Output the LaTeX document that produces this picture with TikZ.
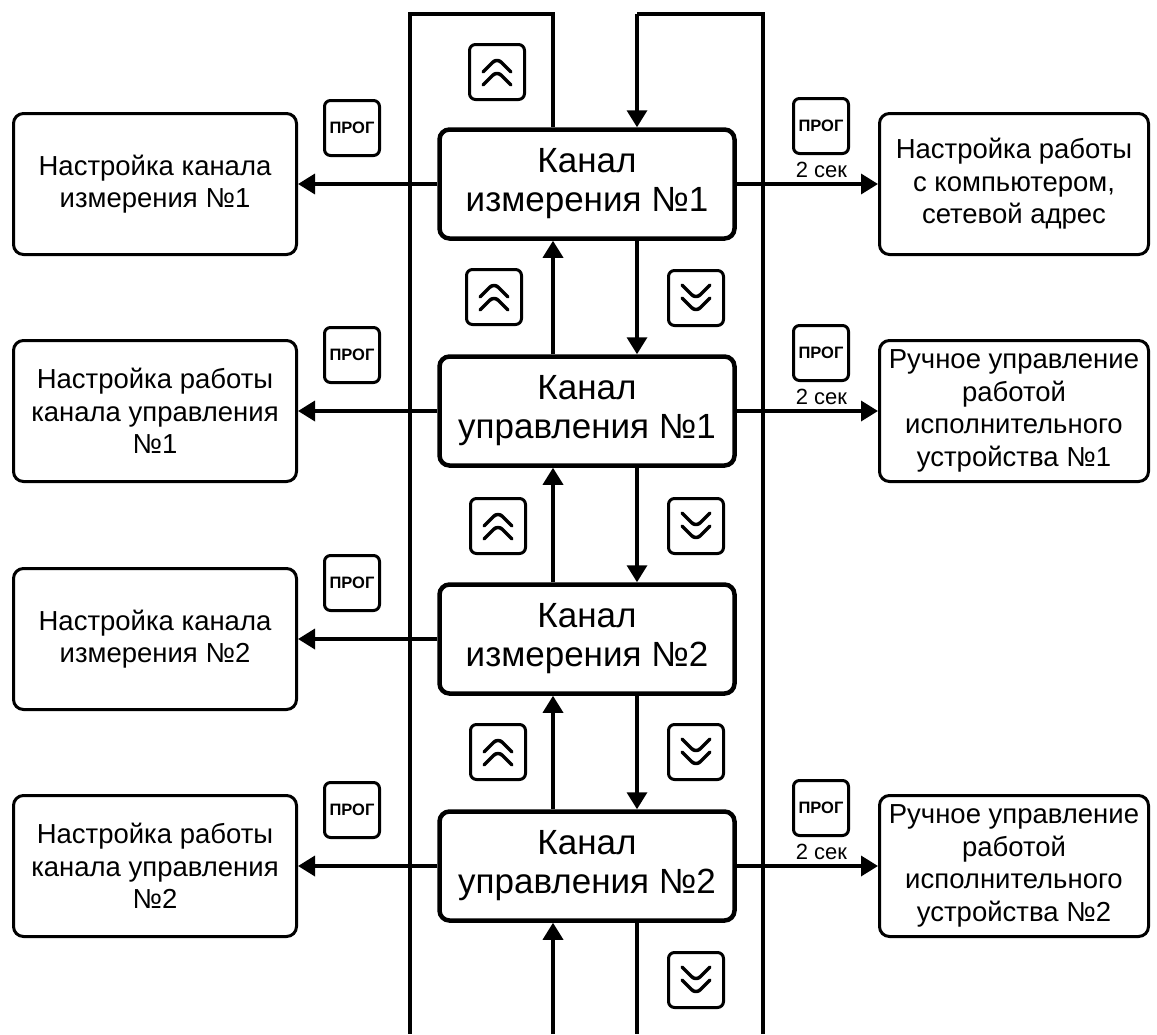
\documentclass[tikz,border=0pt]{standalone}
\usepackage{fontspec}
\setmainfont{Liberation Sans}
\usetikzlibrary{arrows.meta}

\tikzset{
  line/.style={line width=3.5pt},
  arr/.style={line width=3.5pt, -{Triangle[length=17pt,width=20pt]}},
  kanal/.style={draw, line width=4.5pt, rounded corners=10pt, minimum width=295pt, minimum height=109pt, inner sep=0pt, align=center, font=\fontsize{35}{39}\selectfont},
  menu/.style={draw, line width=3pt, rounded corners=10pt, minimum width=283pt, minimum height=141pt, inner sep=0pt, align=center, font=\fontsize{27.5}{32.5}\selectfont},
  menur/.style={menu, minimum width=269pt},
  key/.style={draw, line width=3pt, rounded corners=6pt, minimum size=55pt, inner sep=0pt},
  prog/.style={key, font=\fontsize{16.5}{16.5}\selectfont\bfseries},
  chev/.style={line width=3.5pt, line cap=round, line join=round},
  upkey/.style={key, path picture={
    \draw[chev] ([shift={(-14pt,0pt)}]path picture bounding box.center) -- ++(14pt,14pt) -- ++(14pt,-14pt);
    \draw[chev] ([shift={(-14pt,-13pt)}]path picture bounding box.center) -- ++(14pt,14pt) -- ++(14pt,-14pt);}},
  dnkey/.style={key, path picture={
    \draw[chev] ([shift={(-14pt,0pt)}]path picture bounding box.center) -- ++(14pt,-14pt) -- ++(14pt,14pt);
    \draw[chev] ([shift={(-14pt,13pt)}]path picture bounding box.center) -- ++(14pt,-14pt) -- ++(14pt,14pt);}},
  sek/.style={font=\fontsize{22}{22}\selectfont, above, inner sep=5pt}
}

\begin{document}
\begin{tikzpicture}[x=1pt,y=-1pt]
\useasboundingbox (0,0) rectangle (1157,1034);

\node[kanal] (kan1) at (587,184) {Канал\\измерения №1};
\node[kanal] (kan2) at (587,411) {Канал\\управления №1};
\node[kanal] (kan3) at (587,639) {Канал\\измерения №2};
\node[kanal] (kan4) at (587,866) {Канал\\управления №2};

\node[menu] (nastr1) at (155,184) {Настройка канала\\измерения №1};
\node[menu] (nastr2) at (155,411) {Настройка работы\\канала управления\\№1};
\node[menu] (nastr3) at (155,639) {Настройка канала\\измерения №2};
\node[menu] (nastr4) at (155,866) {Настройка работы\\канала управления\\№2};

\node[menur] (comp) at (1014,184) {Настройка работы\\с компьютером,\\сетевой адрес};
\node[menur] (ruch1) at (1014,411) {Ручное управление\\работой\\исполнительного\\устройства №1};
\node[menur] (ruch2) at (1014,866) {Ручное управление\\работой\\исполнительного\\устройства №2};

\node[prog] (progl1) at (352,128) {ПРОГ};
\node[prog] (progl2) at (352,355) {ПРОГ};
\node[prog] (progl3) at (352,583) {ПРОГ};
\node[prog] (progl4) at (352,810) {ПРОГ};
\node[prog] (progr1) at (821,126) {ПРОГ};
\node[prog] (progr2) at (821,353) {ПРОГ};
\node[prog] (progr4) at (821,808) {ПРОГ};

\node[upkey] (up0) at (497,72) {};
\node[upkey] (up1) at (494,297) {};
\node[upkey] (up2) at (498,526) {};
\node[upkey] (up3) at (498,752) {};
\node[dnkey] (dn1) at (696,298) {};
\node[dnkey] (dn2) at (696,526) {};
\node[dnkey] (dn3) at (696,752) {};
\node[dnkey] (dn4) at (696,980) {};

\coordinate (upx) at (553,0);
\coordinate (dnx) at (637,0);
\coordinate (tl) at (410,14);
\coordinate (bl) at (410,1034);
\coordinate (tr) at (763,14);
\coordinate (br) at (763,1034);

\draw[line] (upx |- kan1.north) -- (upx |- tl) -- (tl) -- (bl);
\draw[line] (br) -- (tr) -- (dnx |- tr);
\draw[arr] (dnx |- tr) -- (dnx |- kan1.north);
\draw[arr] (upx |- kan2.north) -- (upx |- kan1.south);
\draw[arr] (dnx |- kan1.south) -- (dnx |- kan2.north);
\draw[arr] (upx |- kan3.north) -- (upx |- kan2.south);
\draw[arr] (dnx |- kan2.south) -- (dnx |- kan3.north);
\draw[arr] (upx |- kan4.north) -- (upx |- kan3.south);
\draw[arr] (dnx |- kan3.south) -- (dnx |- kan4.north);
\draw[arr] (upx |- bl) -- (upx |- kan4.south);
\draw[line] (dnx |- kan4.south) -- (dnx |- br);

\draw[arr] (kan1.west) -- (nastr1.east);
\draw[arr] (kan2.west) -- (nastr2.east);
\draw[arr] (kan3.west) -- (nastr3.east);
\draw[arr] (kan4.west) -- (nastr4.east);
\draw[arr] (kan1.east) -- node[sek, pos=.6] {2 сек} (comp.west);
\draw[arr] (kan2.east) -- node[sek, pos=.6] {2 сек} (ruch1.west);
\draw[arr] (kan4.east) -- node[sek, pos=.6] {2 сек} (ruch2.west);

\end{tikzpicture}
\end{document}
